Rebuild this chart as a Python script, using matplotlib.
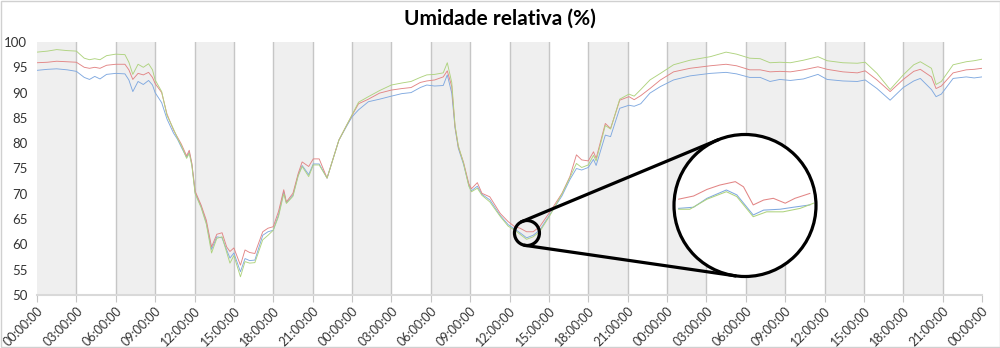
import numpy as np
import matplotlib
matplotlib.use('Agg')
import matplotlib.pyplot as plt
from matplotlib.patches import Circle
from matplotlib.lines import Line2D
from matplotlib.transforms import IdentityTransform

plt.rcParams['font.family'] = ['Lato', 'DejaVu Sans']

# horas desde o inicio (3 dias)
hours = [0.0, 0.8, 1.5, 2.3, 3.0, 3.6, 4.0, 4.4, 4.8, 5.3, 6.0, 6.7, 7.0, 7.3, 7.7, 8.1, 8.5, 8.8,
         9.0, 9.5, 9.9, 10.4, 10.7, 11.0, 11.4, 11.6, 11.8, 12.05, 12.5, 12.9, 13.3, 13.7, 14.1,
         14.45, 14.7, 15.0, 15.5, 15.85, 16.2, 16.6, 17.2, 17.6, 18.0, 18.4, 18.8, 19.0, 19.5,
         19.9, 20.2, 20.7, 21.05, 21.5, 22.1, 22.6, 23.0, 23.6, 24.0, 24.5, 25.25, 26.1, 27.0,
         27.8, 28.5, 29.2, 29.7, 30.3, 30.95, 31.26, 31.6, 31.85, 32.1, 32.5, 32.9, 33.1, 33.55,
         33.9, 34.5, 35.3, 35.9, 36.4, 36.8, 37.3, 37.8, 38.3, 39.1, 40.0, 40.6, 41.1, 41.5, 42.0,
         42.4, 42.6, 43.3, 43.7, 44.4, 45.1, 45.5, 46.0, 46.7, 47.5, 48.5, 49.75, 51.3, 52.5,
         53.3, 54.3, 55.1, 55.85, 56.6, 57.4, 58.4, 59.5, 60.2, 61.4, 62.5, 63.1, 64.0, 65.0,
         66.0, 66.8, 67.3, 68.15, 68.5, 68.9, 69.8, 70.8, 71.4, 72.0]

green = [98.0, 98.2, 98.5, 98.3, 98.2, 96.8, 96.5, 96.7, 96.5, 97.3, 97.6, 97.5, 96.0, 93.6, 95.6,
         95.0, 95.7, 94.5, 92.5, 90.2, 85.5, 82.8, 81.0, 79.5, 77.0, 78.0, 75.5, 70.0, 67.3, 64.0,
         58.3, 61.2, 61.5, 58.5, 56.3, 57.8, 53.6, 56.6, 56.3, 56.4, 60.9, 61.8, 62.8, 65.5, 70.0,
         68.1, 69.5, 73.5, 75.4, 73.4, 75.7, 75.7, 73.1, 77.3, 80.6, 83.6, 85.6, 88.1, 89.2, 90.4,
         91.5, 91.9, 92.2, 93.0, 93.5, 93.6, 93.9, 95.9, 92.0, 83.5, 79.5, 76.0, 71.5, 70.4, 71.1,
         69.7, 68.4, 65.5, 63.6, 62.8, 62.0, 61.0, 61.5, 62.5, 65.8, 70.0, 73.2, 76.0, 75.2, 75.7,
         77.6, 76.5, 83.5, 82.8, 88.7, 89.7, 89.3, 90.6, 92.5, 93.8, 95.5, 96.4, 97.1, 98.0,
         97.6, 96.8, 96.7, 95.9, 96.0, 95.9, 96.4, 97.1, 96.3, 95.9, 95.8, 96.0, 93.8, 90.6,
         93.5, 95.5, 96.1, 94.8, 91.6, 92.2, 95.5, 96.1, 96.3, 96.6]

red = [95.9, 96.0, 96.2, 96.1, 96.0, 95.0, 94.8, 95.0, 94.8, 95.4, 95.6, 95.6, 94.5, 92.6, 93.8,
       93.5, 94.0, 93.0, 91.8, 90.0, 85.8, 82.6, 81.2, 79.8, 77.5, 78.6, 76.0, 70.5, 67.8, 64.8,
       59.5, 62.0, 62.3, 59.5, 58.6, 59.3, 55.9, 58.9, 58.4, 58.2, 62.5, 63.2, 63.5, 66.5, 70.8,
       68.4, 70.1, 74.0, 76.3, 75.4, 76.9, 76.9, 73.1, 77.3, 80.6, 83.6, 85.5, 87.8, 88.7, 89.9,
       90.5, 90.8, 91.0, 92.0, 92.3, 92.5, 93.1, 94.3, 91.2, 83.3, 79.3, 76.2, 72.0, 71.0, 72.2,
       70.1, 69.4, 66.1, 64.5, 63.5, 63.2, 62.5, 62.5, 63.5, 66.5, 70.1, 73.4, 77.7, 76.7, 76.5,
       78.3, 77.0, 83.9, 82.9, 88.5, 89.2, 88.6, 89.4, 90.8, 92.5, 94.1, 94.8, 95.3, 95.6,
       95.3, 94.5, 94.5, 94.1, 94.2, 94.1, 94.5, 95.1, 94.6, 94.1, 93.9, 94.3, 92.5, 90.2,
       92.6, 94.2, 94.6, 93.1, 90.8, 91.3, 93.9, 94.5, 94.6, 94.8]

blue = [94.4, 94.6, 94.7, 94.5, 94.2, 93.0, 92.6, 93.2, 92.7, 93.6, 93.8, 93.7, 92.5, 90.2, 92.2,
        91.6, 92.4, 91.5, 90.0, 88.0, 84.8, 82.0, 80.8, 79.2, 77.2, 78.2, 75.8, 70.2, 67.5, 64.3,
        59.0, 61.5, 61.3, 58.9, 57.3, 58.3, 54.6, 57.2, 56.8, 56.9, 61.8, 62.5, 62.8, 65.8, 70.4,
        68.2, 69.7, 73.7, 75.6, 73.8, 75.9, 75.9, 73.1, 77.3, 80.6, 83.4, 85.2, 86.6, 88.2, 88.7,
        89.3, 89.8, 90.0, 91.0, 91.5, 91.3, 91.4, 93.5, 89.9, 83.0, 79.0, 75.8, 71.7, 70.6, 71.5,
        69.9, 68.8, 65.7, 63.9, 63.0, 62.3, 61.3, 61.8, 62.8, 66.0, 69.6, 72.8, 75.0, 74.7, 75.2,
        76.8, 75.6, 81.6, 81.3, 86.9, 87.5, 87.3, 87.8, 89.9, 91.2, 92.5, 93.3, 93.8, 94.0,
        93.7, 93.0, 93.0, 92.2, 92.6, 92.4, 92.7, 93.6, 92.6, 92.3, 92.2, 92.5, 90.8, 88.5,
        91.0, 92.3, 92.8, 90.6, 89.2, 89.7, 92.8, 93.1, 92.9, 93.1]

# detalhe ampliado (lupa)
detail_red_h = [36.44, 36.64, 36.82, 36.99, 37.20, 37.31, 37.44, 37.58, 37.71, 37.87, 38.00, 38.20]
detail_red = [62.47, 62.58, 62.81, 62.96, 63.08, 62.90, 62.27, 62.44, 62.50, 62.33, 62.50, 62.67]
detail_blue_h = [36.44, 36.64, 36.82, 37.08, 37.22, 37.44, 37.58, 37.80, 37.98, 38.20]
detail_blue = [62.15, 62.19, 62.50, 62.79, 62.62, 61.92, 62.09, 62.12, 62.19, 62.27]
detail_green_h = [36.44, 36.59, 36.82, 37.08, 37.22, 37.44, 37.62, 37.84, 38.07, 38.25]
detail_green = [62.12, 62.12, 62.47, 62.73, 62.56, 61.86, 62.03, 62.03, 62.15, 62.33]

focus_h, focus_v = 37.33, 62.25

c_green = '#afd37f'
c_red = '#e28585'
c_blue = '#80a9e0'

W, H = 1000, 348
fig = plt.figure(figsize=(W / 100, H / 100), dpi=100)
fig.patches.append(plt.Rectangle((0.0005, 0.0015), 0.999, 0.997, transform=fig.transFigure,
                                 fill=False, edgecolor='#d0d0d0', lw=1))

ax = fig.add_axes([37 / W, 1 - 295 / H, 945 / W, 253 / H])
ax.set_zorder(0)
for k in range(0, 72, 6):
    ax.axvspan(k, k + 3, color='#efefef', lw=0, zorder=0)
for k in range(3, 72, 3):
    ax.axvline(k, color='#c6c6c6', lw=1, zorder=0.5)

ax.plot(hours, blue, color=c_blue, lw=0.65, zorder=2)
ax.plot(hours, red, color=c_red, lw=0.65, zorder=2)
ax.plot(hours, green, color=c_green, lw=0.65, zorder=2)

ax.set_xlim(0, 72)
ax.set_ylim(50, 100)
ax.set_yticks(range(50, 101, 5))
ticks = list(range(0, 73, 3))
ax.set_xticks(ticks)
ax.set_xticklabels(['%02d:00:00' % (t % 24) for t in ticks], rotation=45, ha='right',
                   rotation_mode='anchor')
ax.tick_params(axis='x', length=5, color='#c6c6c6', labelsize=9, labelcolor='#333333', pad=2)
ax.tick_params(axis='y', length=0, labelsize=9.5, labelcolor='#333333', pad=7)
for s in ['left', 'top', 'right']:
    ax.spines[s].set_visible(False)
ax.spines['bottom'].set_color('#d9d9d9')
ax.spines['bottom'].set_linewidth(1.5)

fig.text(0.5, 1 - 19 / H, 'Umidade relativa (%)', ha='center', va='center',
         fontsize=15, fontweight='bold')

# lupa
cx1, cy1 = ax.transData.transform((focus_h, focus_v))
r1 = 12.5
cx2, cy2, r2 = 745, H - 205.5, 71

inv = ax.transData.inverted()
x0, y0 = inv.transform((cx1 - r1, cy1 - r1))
x1, y1 = inv.transform((cx1 + r1, cy1 + r1))

fig.patches.append(Circle((cx2, cy2), r2, transform=IdentityTransform(),
                          facecolor='white', edgecolor='none', zorder=1))

ax_in = fig.add_axes([(cx2 - r2) / W, (cy2 - r2) / H, 2 * r2 / W, 2 * r2 / H])
ax_in.set_zorder(2)
ax_in.patch.set_visible(False)
ax_in.axis('off')
clip = Circle((cx2, cy2), r2 - 1, transform=IdentityTransform())
for hh, vv, cc in [(detail_blue_h, detail_blue, c_blue), (detail_red_h, detail_red, c_red),
                   (detail_green_h, detail_green, c_green)]:
    ln, = ax_in.plot(hh, vv, color=cc, lw=0.75)
    ln.set_clip_path(clip)
ax_in.set_xlim(x0, x1)
ax_in.set_ylim(y0, y1)

for (cx, cy, r) in [(cx1, cy1, r1), (cx2, cy2, r2)]:
    fig.patches.append(Circle((cx, cy), r, transform=IdentityTransform(), fill=False,
                              edgecolor='black', lw=2.3, zorder=3))

# tangentes externas
d = np.array([cx2 - cx1, cy2 - cy1])
L = np.hypot(*d)
base = np.arctan2(d[1], d[0])
alpha = np.arccos((r1 - r2) / L)
for sgn in (1, -1):
    a = base + sgn * alpha
    n = np.array([np.cos(a), np.sin(a)])
    p1 = np.array([cx1, cy1]) + r1 * n
    p2 = np.array([cx2, cy2]) + r2 * n
    fig.lines.append(Line2D([p1[0], p2[0]], [p1[1], p2[1]], transform=IdentityTransform(),
                            color='black', lw=2.3, zorder=3))

fig.savefig('out.png', dpi=100)
